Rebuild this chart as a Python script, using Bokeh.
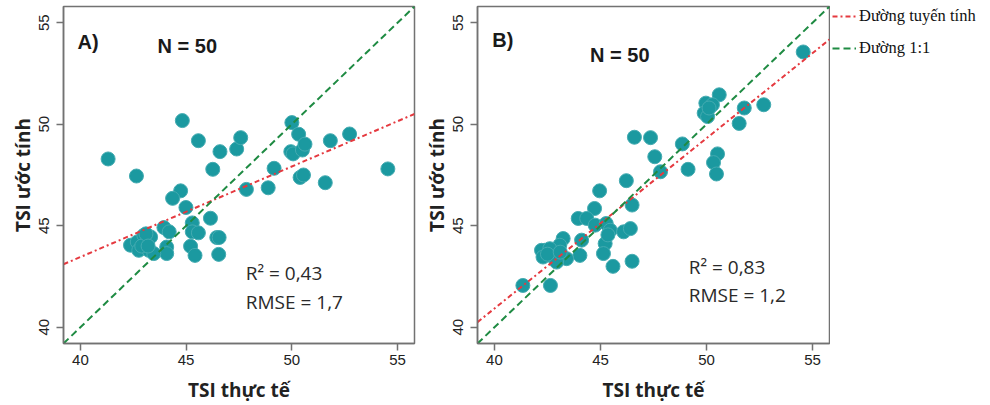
import numpy as np
from bokeh.plotting import figure
from bokeh.models import Range1d, FixedTicker, Label, Legend, LegendItem
from bokeh.layouts import row
from bokeh.embed import file_html
from bokeh.resources import INLINE

# ---------------- data ----------------
ticks = [40, 45, 50, 55]
axis_min, axis_max = 39.2, 55.8

a_actual = [41.31, 42.65, 44.82, 45.58, 46.60, 47.39, 47.58, 46.26, 49.16, 47.85,
            48.88, 50.00, 50.32, 49.95, 50.06, 50.50, 50.62, 50.39, 50.55, 51.58,
            51.82, 52.73, 54.54, 44.74, 44.36, 44.99, 46.15, 45.29, 45.29, 45.58,
            46.45, 46.56, 45.21, 45.42, 46.54, 43.95, 44.20, 44.08, 44.08, 42.37,
            42.69, 43.00, 43.16, 43.32, 42.76, 43.24, 43.47, 42.90, 43.10, 43.20]
a_pred = [48.29, 47.45, 50.18, 49.19, 48.65, 48.78, 49.34, 47.78, 47.83, 46.79,
          46.87, 50.08, 49.51, 48.65, 48.54, 48.73, 49.02, 47.38, 47.50, 47.12,
          49.19, 49.52, 47.80, 46.72, 46.35, 45.90, 45.37, 45.14, 44.70, 44.65,
          44.42, 44.42, 43.99, 43.54, 43.59, 44.91, 44.70, 43.95, 43.63, 44.04,
          44.20, 44.53, 44.20, 44.45, 43.79, 43.79, 43.63, 44.00, 44.60, 44.00]

b_actual = [54.56, 50.60, 49.97, 50.28, 49.89, 50.05, 50.12, 51.78, 52.70, 51.54,
            46.60, 47.36, 47.56, 48.86, 47.83, 49.13, 50.52, 50.33, 50.47, 46.22,
            44.96, 46.49, 44.72, 43.95, 44.35, 44.75, 45.27, 45.46, 46.09, 46.41,
            45.22, 45.14, 45.59, 46.49, 44.11, 44.03, 43.24, 43.08, 42.37, 42.22,
            42.61, 42.29, 42.77, 43.40, 42.93, 41.34, 42.64, 45.35, 42.50, 43.10]
b_pred = [53.56, 51.45, 51.04, 50.96, 50.55, 50.38, 50.80, 50.80, 50.96, 50.04,
          49.36, 49.34, 48.40, 49.03, 47.66, 47.78, 48.54, 48.11, 47.55, 47.22,
          46.72, 46.02, 45.85, 45.36, 45.36, 45.03, 45.11, 44.78, 44.70, 44.86,
          44.12, 43.63, 43.00, 43.25, 44.29, 43.54, 44.37, 44.04, 43.79, 43.79,
          43.87, 43.46, 43.46, 43.38, 43.21, 42.06, 42.06, 44.55, 43.60, 43.70]

a_fit = (0.446, 25.62)   # slope, intercept of fitted line
b_fit = (0.8386, 7.38)

a_stats = ["R\u00b2 = 0,43", "RMSE = 1,7"]
b_stats = ["R\u00b2 = 0,83", "RMSE = 1,2"]
n_text = "N = 50"
panel_tags = ["A)", "B)"]
legend_labels = ["\u0110\u01b0\u1eddng tuy\u1ebfn t\u00ednh", "\u0110\u01b0\u1eddng 1:1"]
x_title = "TSI th\u1ef1c t\u1ebf"
y_title = "TSI \u01b0\u1edbc t\u00ednh"

# ---------------- style ----------------
PT_FILL = "#1b99a0"
PT_LINE = "#44abb1"
RED = "#e5393f"
GREEN = "#1f8b43"
FRAME = "#727272"
SANS = "Open Sans"
ARIAL = "Liberation Sans"
H = 405
TOP = 6
BOTTOM = 62
RED_DASH = "5 3 2 3"
GREEN_DASH = "7 4"


def make_panel(xs, ys, fit, stats, tag, width, min_left, min_right,
               tag_pos, n_pos, stats_pos):
    p = figure(width=width, height=H, output_backend="svg", toolbar_location=None,
               x_range=Range1d(axis_min, axis_max), y_range=Range1d(axis_min, axis_max),
               min_border_left=min_left, min_border_right=min_right,
               min_border_top=TOP, min_border_bottom=BOTTOM)
    p.grid.visible = False
    p.outline_line_color = FRAME
    p.outline_line_width = 1.5
    p.background_fill_color = "white"
    p.border_fill_color = "white"
    for ax in (p.xaxis[0], p.yaxis[0]):
        ax.ticker = FixedTicker(ticks=ticks)
        ax.minor_tick_line_color = None
        ax.major_tick_in = 0
        ax.major_tick_out = 7
        ax.major_tick_line_color = FRAME
        ax.major_tick_line_width = 1.5
        ax.axis_line_color = FRAME
        ax.axis_line_width = 1.5
        ax.major_label_text_font = ARIAL
        ax.major_label_text_font_size = "15px"
        ax.major_label_text_color = "#222222"
        ax.axis_label_text_font = SANS
        ax.axis_label_text_font_style = "bold"
        ax.axis_label_text_font_size = "19px"
        ax.axis_label_text_color = "#222222"
    p.xaxis.axis_label = x_title
    p.yaxis.axis_label = y_title
    p.xaxis.major_label_standoff = 4
    p.xaxis.axis_label_standoff = 9
    p.yaxis.major_label_standoff = 7
    p.yaxis.axis_label_standoff = 1
    p.yaxis.major_label_orientation = "vertical"

    p.scatter(xs, ys, size=14, fill_color=PT_FILL, line_color=PT_LINE, line_width=1)

    ends = np.array([axis_min, axis_max])
    p.line(ends, fit[0] * ends + fit[1], line_color=RED, line_width=2, line_dash=RED_DASH)
    p.line(ends, ends, line_color=GREEN, line_width=2, line_dash=GREEN_DASH)

    p.add_layout(Label(x=tag_pos[0], y=tag_pos[1], text=tag, text_font=ARIAL,
                       text_font_style="bold", text_font_size="20px",
                       text_baseline="middle", text_color="#1a1a1a"))
    p.add_layout(Label(x=n_pos[0], y=n_pos[1], text=n_text, text_font=ARIAL,
                       text_font_style="bold", text_font_size="20px",
                       text_baseline="middle", text_color="#1a1a1a"))
    for s, yy in zip(stats, stats_pos[1]):
        p.add_layout(Label(x=stats_pos[0], y=yy, text=s, text_font=SANS,
                           text_font_size="19px", text_baseline="middle",
                           text_color="#2a2a2a"))
    return p


pA = make_panel(a_actual, a_pred, a_fit, a_stats, panel_tags[0], 420, 63, 6,
                (39.86, 54.07), (43.65, 53.87), (47.82, (42.65, 41.22)))
pB = make_panel(b_actual, b_pred, b_fit, b_stats, panel_tags[1], 410, 57, 1,
                (39.9, 54.17), (44.51, 53.43), (49.16, (42.95, 41.57)))

# legend panel to the right of panel B (its line renderers lie outside its visible range)
pL = figure(width=160, height=H, output_backend="svg", toolbar_location=None,
            x_range=Range1d(0, 1), y_range=Range1d(0, 1),
            min_border_left=2, min_border_right=0, min_border_top=6, min_border_bottom=0)
pL.axis.visible = False
pL.grid.visible = False
pL.outline_line_color = None
pL.border_fill_color = "white"
ends = np.array([axis_min, axis_max])
lr = pL.line(ends, b_fit[0] * ends + b_fit[1], line_color=RED, line_width=2, line_dash=RED_DASH)
lg = pL.line(ends, ends, line_color=GREEN, line_width=2, line_dash=GREEN_DASH)
legend = Legend(items=[LegendItem(label=legend_labels[0], renderers=[lr]),
                       LegendItem(label=legend_labels[1], renderers=[lg])],
                location="top_left", orientation="vertical",
                border_line_color=None, background_fill_alpha=0,
                padding=4, margin=0, spacing=12,
                glyph_width=24, glyph_height=20, label_height=20,
                label_standoff=3, label_text_font="Liberation Serif",
                label_text_font_size="16.5px", label_text_color="#111111")
pL.add_layout(legend)

layout = row(pA, pB, pL)
open("out.html", "w").write(file_html(layout, INLINE))
